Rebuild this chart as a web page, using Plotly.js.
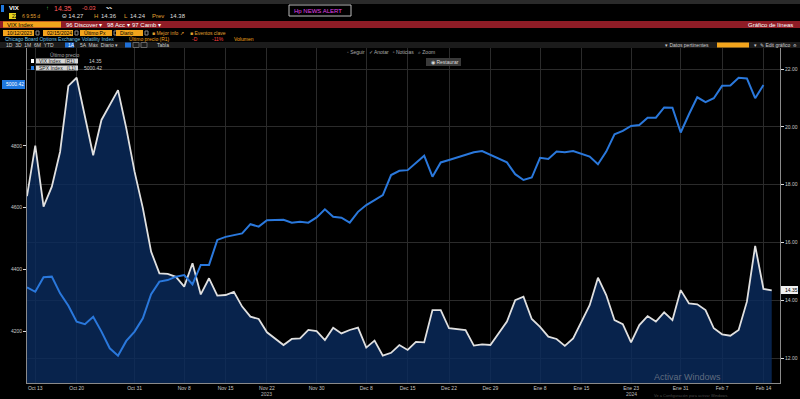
<!DOCTYPE html>
<html><head><meta charset="utf-8">
<script src="https://cdn.plot.ly/plotly-3.0.1.min.js"></script>
<style>html,body{margin:0;padding:0;background:#000;}#chart{width:800px;height:399px;}</style>
</head><body><div id="chart"></div><script>
// Weekday calendar shown on the chart (holidays have no data)
const dates = [
 '2023-10-12','2023-10-13','2023-10-16','2023-10-17','2023-10-18','2023-10-19','2023-10-20','2023-10-23','2023-10-24','2023-10-25','2023-10-26','2023-10-27','2023-10-30','2023-10-31',
 '2023-11-01','2023-11-02','2023-11-03','2023-11-06','2023-11-07','2023-11-08','2023-11-09','2023-11-10','2023-11-13','2023-11-14','2023-11-15','2023-11-16','2023-11-17','2023-11-20','2023-11-21','2023-11-22','2023-11-23','2023-11-24','2023-11-27','2023-11-28','2023-11-29','2023-11-30',
 '2023-12-01','2023-12-04','2023-12-05','2023-12-06','2023-12-07','2023-12-08','2023-12-11','2023-12-12','2023-12-13','2023-12-14','2023-12-15','2023-12-18','2023-12-19','2023-12-20','2023-12-21','2023-12-22','2023-12-25','2023-12-26','2023-12-27','2023-12-28','2023-12-29',
 '2024-01-01','2024-01-02','2024-01-03','2024-01-04','2024-01-05','2024-01-08','2024-01-09','2024-01-10','2024-01-11','2024-01-12','2024-01-15','2024-01-16','2024-01-17','2024-01-18','2024-01-19','2024-01-22','2024-01-23','2024-01-24','2024-01-25','2024-01-26','2024-01-29','2024-01-30','2024-01-31',
 '2024-02-01','2024-02-02','2024-02-05','2024-02-06','2024-02-07','2024-02-08','2024-02-09','2024-02-12','2024-02-13','2024-02-14','2024-02-15'
];
// VIX Index (right axis)
const vix = [
 17.6,19.35,17.24,17.93,19.14,21.42,21.70,20.41,19.02,20.24,20.75,21.27,19.95,18.45,
 17.19,15.68,14.93,14.91,14.81,14.47,15.28,14.20,14.76,14.16,14.18,14.29,13.78,13.43,13.35,12.89,null,12.45,12.66,12.68,12.97,12.93,
 12.62,13.05,12.85,12.97,13.05,12.36,12.60,12.08,12.18,12.45,12.28,12.56,12.54,13.66,13.66,13.03,null,12.97,12.43,12.47,12.45,
 null,13.26,14.00,14.12,13.35,13.08,12.74,12.66,12.42,12.68,null,13.83,14.78,14.18,13.31,13.17,12.54,13.14,13.45,13.26,13.58,13.31,14.35,
 13.89,13.86,13.66,13.03,12.82,12.77,12.97,13.95,15.88,14.39,14.34
];
// SPX Index (left axis)
const spx = [
 4341,4327,4374,4376,4322,4282,4230,4222,4246,4198,4144,4120,4168,4198,
 4241,4319,4360,4365,4376,4381,4351,4414,4414,4495,4505,4511,4516,4546,4538,4559,null,4560,4551,4554,4551,4568,
 4594,4570,4567,4551,4586,4608,4624,4640,4705,4719,4721,4746,4768,4700,4746,4754,null,4772,4779,4783,4770,
 null,4746,4708,4689,4697,4761,4757,4781,4779,4783,null,4765,4740,4781,4837,4848,4864,4867,4891,4891,4924,4923,4843,
 4902,4957,4941,4954,4994,4995,5020,5018,4954,4997,null
];
const tickDates = ['2023-10-13','2023-10-20','2023-10-31','2023-11-08','2023-11-15','2023-11-22','2023-11-30','2023-12-08','2023-12-15','2023-12-22','2023-12-29','2024-01-08','2024-01-15','2024-01-23','2024-01-31','2024-02-07','2024-02-14'];
const tickLabels = ['Oct 13','Oct 20','Oct 31','Nov 8','Nov 15','Nov 22','Nov 30','Dec 8','Dec 15','Dec 22','Dec 29','Ene 8','Ene 15','Ene 23','Ene 31','Feb 7','Feb 14'];
const yearDates = ['2023-11-22','2024-01-23'];
const yearLabels = ['2023','2024'];
const vixTicks = [12,14,16,18,20,22];
const spxTicks = [4200,4400,4600,4800];
const vixLast = '14.35', spxLast = '5000.42';

// pixel -> paper helpers (plot area 27..780 x 48..383)
const X = x => (x-27)/753, Y = y => (383-y)/335;
const FONT = 'Liberation Sans, Arial, sans-serif';
const shapes = [], ann = [];
function box(x0,y0,x1,y1,fill,line){shapes.push({type:'rect',xref:'paper',yref:'paper',x0:X(x0),x1:X(x1),y0:Y(y1),y1:Y(y0),fillcolor:fill||'rgba(0,0,0,0)',line:{width:line?1:0,color:line||'rgba(0,0,0,0)'},layer:'above'});}
function txt(x,y,t,color,size,anchor){ann.push({xref:'paper',yref:'paper',x:X(x),y:Y(y),text:t,showarrow:false,xanchor:anchor||'left',yanchor:'middle',font:{family:FONT,size:size||6,color:color||'#ddd'}});}

// header
box(0,0,800,4,'#2a2a2a');
box(1,5,4,12,'#1f78e0');
txt(7,8.5,'<b>VIX</b>','#fff',6);
txt(44,8.5,'↑','#4caf50',6); txt(52,8.5,'14.35','#ff5a5a',7); txt(80,8.5,'-0.03','#ff5a5a',6);
txt(103,8,'〰','#ddd',6);
box(289,5,351,16,null,'#bbb'); txt(292,10.5,'Hp NEWS ALERT','#e040e8',6);
box(9,13,16,19,'#e6d21e'); txt(10,16,'22','#000',5);
txt(20,16.5,'б 9:55 d','#e0a030',5);
txt(60,16.5,'Θ 14.27','#ddd',6); txt(92,16.5,'H','#e0a030',6); txt(99,16.5,'14.36','#ddd',6); txt(122,16.5,'L','#e0a030',6); txt(128,16.5,'14.24','#ddd',6); txt(150,16.5,'Prev','#e0a030',6); txt(168,16.5,'14.38','#ddd',6);
box(0,21,800,28,'#8f1c26');
box(3,21.5,61,27.5,'#f2a41c'); txt(5,24.5,'VIX Index','#000',6);
txt(64,24.5,'96 Discover ▾','#fff',6); txt(105,24.5,'98 Acc ▾','#fff',6); txt(130,24.5,'97 Camb ▾','#fff',6);
txt(795,24.5,'Gráfico de líneas','#fff',6,'right');
[[3,34,'10/12/2023'],[43,73,'02/15/2024'],[80,112,'Último Px'],[116,143,'Diario']].forEach(b=>{box(b[0],30,b[1],36,'#f2a41c');txt(b[0]+2,33,b[2],'#000',5);box(b[1]+2,31,b[1]+5,35,null,'#888');});
txt(150,33,'■ Mejor info ↗','#e0a030',5); txt(188,33,'■ Eventos clave','#e0a030',5);
txt(3,39.5,'Chicago Board Options Exchange Volatility Index','#6ec6e6',5);
txt(127,39.5,'Último precio (R1)','#f2a41c',5); txt(190,39.5,'-D','#ff4040',5); txt(210,39.5,'-11%','#ff4040',5); txt(232,39.5,'Volumen','#f2a41c',5);
box(0,42,800,48,'#1b1b1b');
txt(4,45,'1D  3D  1M  6M  YTD','#ccc',5); box(65,42.5,74,47.5,'#1f6fd6'); txt(66,45,'1A','#fff',5);
txt(78,45,'5A  Máx  Diario ▾','#ccc',5);
box(125,42.5,131,47.5,'#1f6fd6'); box(133,42.5,139,47.5,null,'#666'); box(141,42.5,147,47.5,null,'#666'); txt(155,45,'Tabla','#ccc',5);
txt(663,45,'▾ Datos pertinentes','#ccc',5); box(717,42.5,749,47.5,'#f2a41c'); txt(752,45,'▾','#ccc',5); txt(758,45,'✎ Edit gráfico','#ccc',5); txt(799,45,'⚙','#ccc',4,'right');
txt(345,52.5,'◦ Seguir   ✓ Anotar   ▫ Noticias   ⌕ Zoom','#aaa',5);
box(426,58,461,66,'#3a3a3a'); txt(429,62,'◉ Restaurar','#ddd',5);
// legend
txt(48,55,'Último precio','#aaa',5);
box(31,59,34,63,'#fff'); box(36,58.5,78,63.5,'#d6d6d6'); txt(37,61,'VIX Index   (R1)','#222',5); txt(87,61,vixLast,'#ccc',5);
box(31,66,34,70,'#1f78e0'); box(36,65.5,78,70.5,'#d6d6d6'); txt(37,68,'SPX Index   (L1)','#222',5); txt(82,68,spxLast,'#ccc',5);
// last value tags
box(2,80,25,89,'#1f78e0'); txt(4,84.5,spxLast,'#fff',5);
box(781,286,798,294,'#f0f0f0'); txt(782.5,290,vixLast,'#000',5);
// year labels
yearDates.forEach((d,i)=>ann.push({xref:'x',yref:'paper',x:d,y:Y(394),text:yearLabels[i],showarrow:false,xanchor:'center',yanchor:'middle',font:{family:FONT,size:5,color:'#bbb'}}));
// watermark
txt(652,377,'Activar Windows','rgba(170,170,170,0.55)',9);
txt(652,395.5,'Ve a Configuración para activar Windows.','rgba(170,170,170,0.45)',4);

const traces = [
 {x:dates, y:vix, type:'scatter', mode:'lines', name:'VIX Index (R1)', yaxis:'y', connectgaps:true,
  line:{color:'#e0e0e0', width:1.8}, fill:'tozeroy', fillcolor:'rgba(10,44,95,0.8)', hoverinfo:'skip'},
 {x:dates, y:spx, type:'scatter', mode:'lines', name:'SPX Index (L1)', yaxis:'y2', connectgaps:true,
  line:{color:'#2a78dc', width:2}, hoverinfo:'skip'}
];
const layout = {
 width:800, height:399, paper_bgcolor:'#000', plot_bgcolor:'#000',
 margin:{l:27, r:20, t:48, b:16, pad:0}, showlegend:false,
 font:{family:FONT, color:'#bbb', size:6},
 xaxis:{type:'category', range:[0,91], tickmode:'array', tickvals:tickDates, ticktext:tickLabels,
  showgrid:true, gridcolor:'#2b2b2b', gridwidth:1, showline:true, linecolor:'#8a8a8a', linewidth:1,
  ticks:'', tickfont:{size:5, color:'#c8c8c8'}, zeroline:false},
 yaxis:{side:'right', range:[11.135,22.73], tickmode:'array', tickvals:vixTicks, tickformat:'.2f',
  showgrid:true, gridcolor:'#2b2b2b', gridwidth:1, showline:true, linecolor:'#8a8a8a', linewidth:1,
  ticks:'outside', ticklen:3, tickcolor:'#ddd', tickfont:{size:5, color:'#c8c8c8'}, zeroline:false},
 yaxis2:{side:'left', overlaying:'y', range:[4031.6,5116.6], tickmode:'array', tickvals:spxTicks, tickformat:'d',
  showgrid:false, showline:true, linecolor:'#8a8a8a', linewidth:1, ticks:'outside', ticklen:3, tickcolor:'#ddd',
  tickfont:{size:5, color:'#c8c8c8'}, zeroline:false},
 shapes:shapes, annotations:ann
};
Plotly.newPlot('chart', traces, layout, {staticPlot:true, displayModeBar:false});
</script></body></html>
